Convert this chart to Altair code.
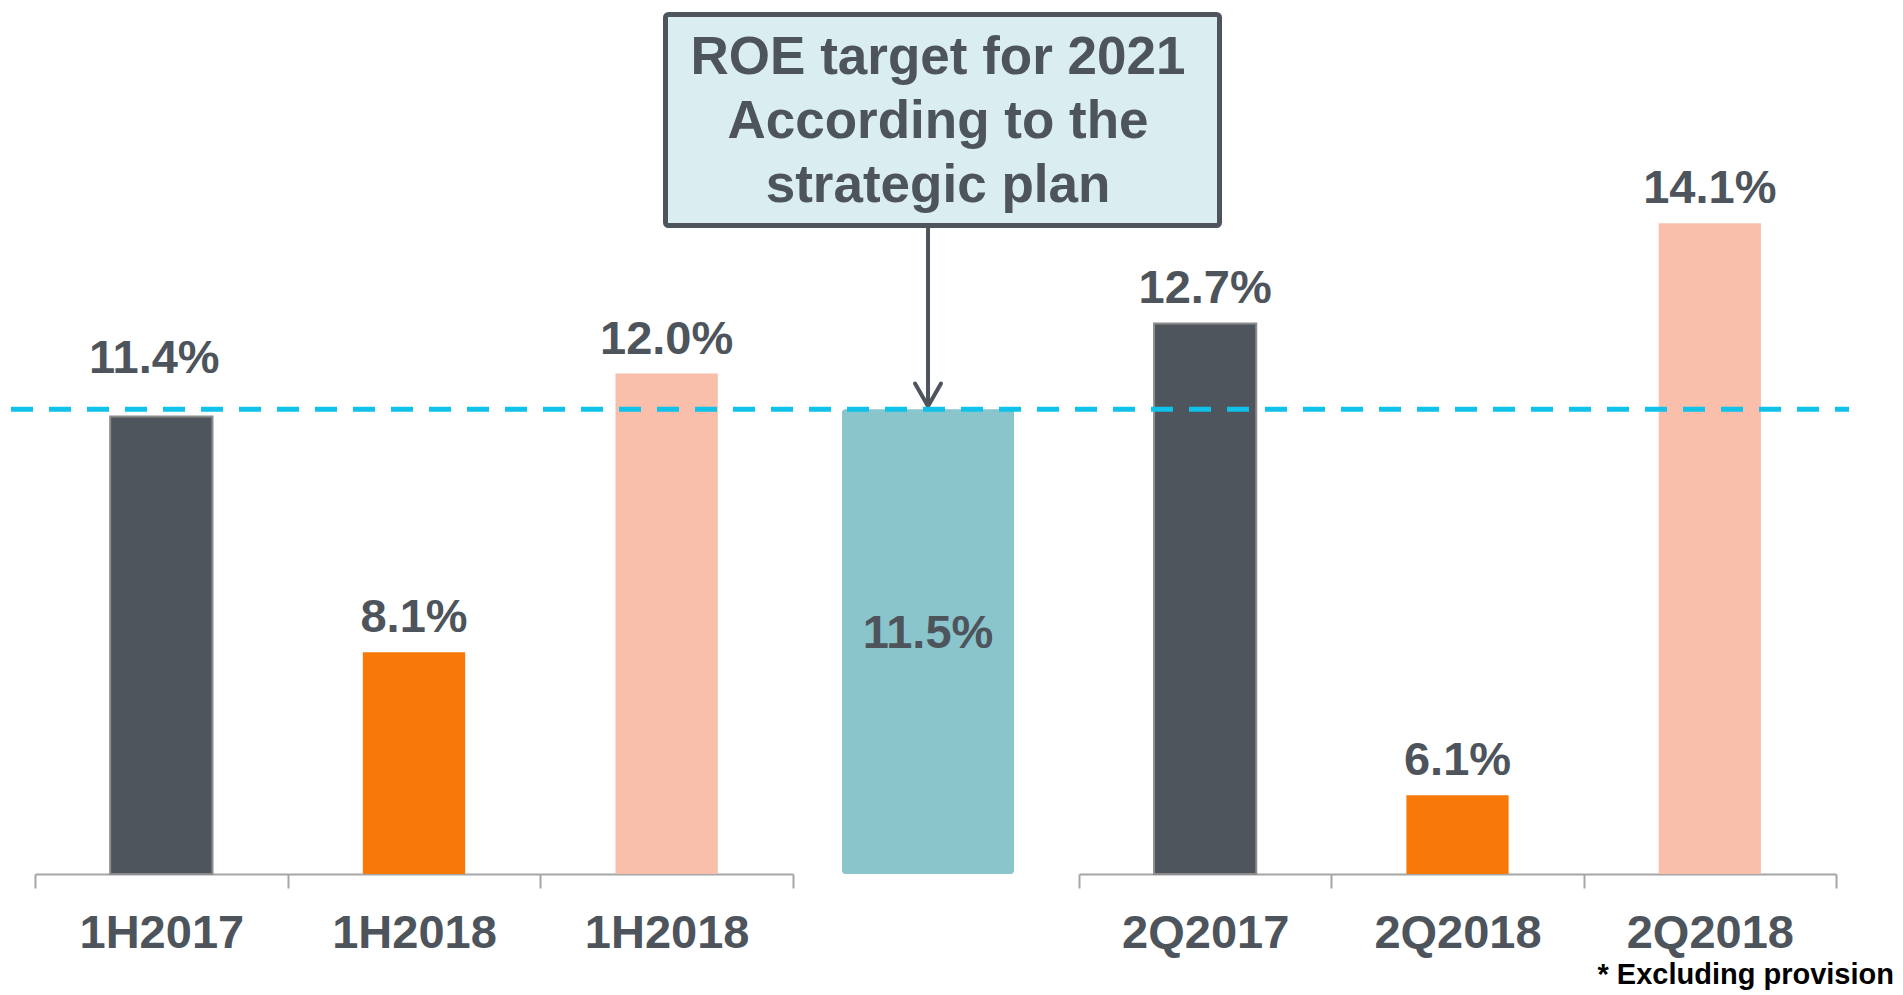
import altair as alt
import pandas as pd

# ---------------- data ----------------
half_periods = ["1H2017", "1H2018", "1H2018"]
half_values = [11.4, 8.1, 12.0]
quarter_periods = ["2Q2017", "2Q2018", "2Q2018"]
quarter_values = [12.7, 6.1, 14.1]
series = ["Prior year", "Reported", "Excluding provision"]
target_label = ["ROE target 2021"]
target_value = [11.5]
box_lines = ["ROE target for 2021", "According to the", "strategic plan"]
footnote = "* Excluding provision"

# ---------------- style ----------------
series_colors = ["#4f555c", "#f77a08", "#f9bfaa"]
TEAL = "#8bc5cc"
DASH = "#10c1ea"
TEXT = "#4d545c"
BOX_FILL = "#daedf1"
AXIS_GRAY = "#a6a6a6"
FONT = "Liberation Sans"
Y_MIN, Y_MAX = 5, 17
H = 858
W_LEFT, W_MID, W_RIGHT = 758, 286, 757
TARGET = target_value[0]

yscale = alt.Scale(domain=[Y_MIN, Y_MAX], zero=False, nice=False)


def frame(periods, values):
    return pd.DataFrame({
        "key": [f"{p}|{s}" for p, s in zip(periods, series)],
        "period": periods,
        "value": values,
        "series": series,
    })


def group_panel(periods, values, width, extra=None):
    df = frame(periods, values)
    base = alt.Chart(df).transform_calculate(
        lbl="format(datum.value, '.1f') + '%'"
    )
    x = alt.X(
        "key:N", sort=None,
        scale=alt.Scale(paddingInner=0, paddingOuter=0),
        axis=alt.Axis(
            title=None, labelAngle=0, tickBand="extent",
            labelExpr="split(datum.label, '|')[0]",
        ),
    )
    y = alt.Y("value:Q", scale=yscale, axis=None)
    bars = base.mark_bar(width=alt.RelativeBandSize(0.405), stroke="#8c8c8c").encode(
        x=x, y=y, y2=alt.datum(Y_MIN),
        color=alt.Color("series:N", scale=alt.Scale(domain=series, range=series_colors), legend=None),
        strokeWidth=alt.condition(alt.datum.series == series[0], alt.value(2), alt.value(0)),
    )
    near = f"datum.value < {TARGET} && datum.value > {TARGET} - 0.6"
    txt = dict(font=FONT, fontSize=47, fontWeight="bold", color=TEXT, baseline="alphabetic")
    labels = base.transform_filter(f"!({near})").mark_text(dy=-20, **txt).encode(
        x=x, y=y, text="lbl:N")
    labels_near = base.transform_filter(near).mark_text(dy=-43, dx=-7, **txt).encode(
        x=x, y=y, text="lbl:N")
    layers = [bars, labels, labels_near] + (extra or [])
    return alt.layer(*layers).properties(width=width, height=H)


# ---------------- middle (target) panel ----------------
tdf = pd.DataFrame({"key": target_label, "value": target_value})
tbase = alt.Chart(tdf).transform_calculate(
    lbl="format(datum.value, '.1f') + '%'",
    mid=f"(datum.value + {Y_MIN}) / 2",
)
tx = alt.X("key:N", axis=None,
           scale=alt.Scale(paddingInner=0, paddingOuter=0.3314, align=0.43))
ty = alt.Y("value:Q", scale=yscale, axis=None)

teal = tbase.mark_bar(color=TEAL, cornerRadius=3).encode(x=tx, y=ty, y2=alt.datum(Y_MIN))
teal_lbl = tbase.mark_text(font=FONT, fontSize=47, fontWeight="bold", color=TEXT,
                           baseline="alphabetic", dy=6).encode(
    x=tx, y=alt.Y("mid:Q", scale=yscale, axis=None), text="lbl:N")
box = tbase.mark_rect(fill=BOX_FILL, stroke=TEXT, strokeWidth=5, cornerRadius=3).encode(
    x=alt.value(-127.5), x2=alt.value(426.5), y=alt.value(-1.5), y2=alt.value(209.5))
box_text = tbase.mark_text(text=box_lines, font=FONT, fontSize=53, fontWeight="bold",
                           color=TEXT, lineHeight=64, baseline="alphabetic", dx=10).encode(
    x=tx, y=alt.value(58))
arrow = tbase.mark_rule(color=TEXT, strokeWidth=4).encode(
    x=tx, y=ty, y2=alt.value(212))
arrow_head = tbase.mark_point(shape="M-1,-1.75L0,0L1,-1.75", size=676, filled=False,
                              stroke=TEXT, strokeWidth=4, strokeJoin="round",
                              strokeCap="round", opacity=1, yOffset=-3).encode(x=tx, y=ty)

middle = alt.layer(teal, teal_lbl, box, box_text, arrow, arrow_head).properties(
    width=W_MID, height=H)

# ---------------- overlays drawn last ----------------
dashed = alt.Chart(tdf).mark_rule(color=DASH, strokeWidth=5, strokeDash=[22, 16]).encode(
    y=alt.Y("value:Q", scale=yscale, axis=None),
    x=alt.value(-1068), x2=alt.value(770))
foot = alt.Chart(tdf).mark_text(text=footnote, align="right", font=FONT, fontSize=29,
                                fontWeight="bold", color="black", baseline="alphabetic").encode(
    x=alt.value(815), y=alt.value(968))

left = group_panel(half_periods, half_values, W_LEFT)
right = group_panel(quarter_periods, quarter_values, W_RIGHT, extra=[dashed, foot])

chart = alt.hconcat(left, middle, right, spacing=0).properties(
    bounds="flush",
    background="white",
    padding={"left": 0, "top": 4, "right": 0, "bottom": 0},
).configure_view(stroke=None).configure_axis(
    domainColor=AXIS_GRAY, domainWidth=2, tickColor=AXIS_GRAY, tickWidth=2, tickSize=14,
    labelFont=FONT, labelFontSize=47, labelFontWeight="bold", labelColor=TEXT,
    labelPadding=22, grid=False,
)

chart.save("out.html", embed_options={"renderer": "svg", "actions": False})
